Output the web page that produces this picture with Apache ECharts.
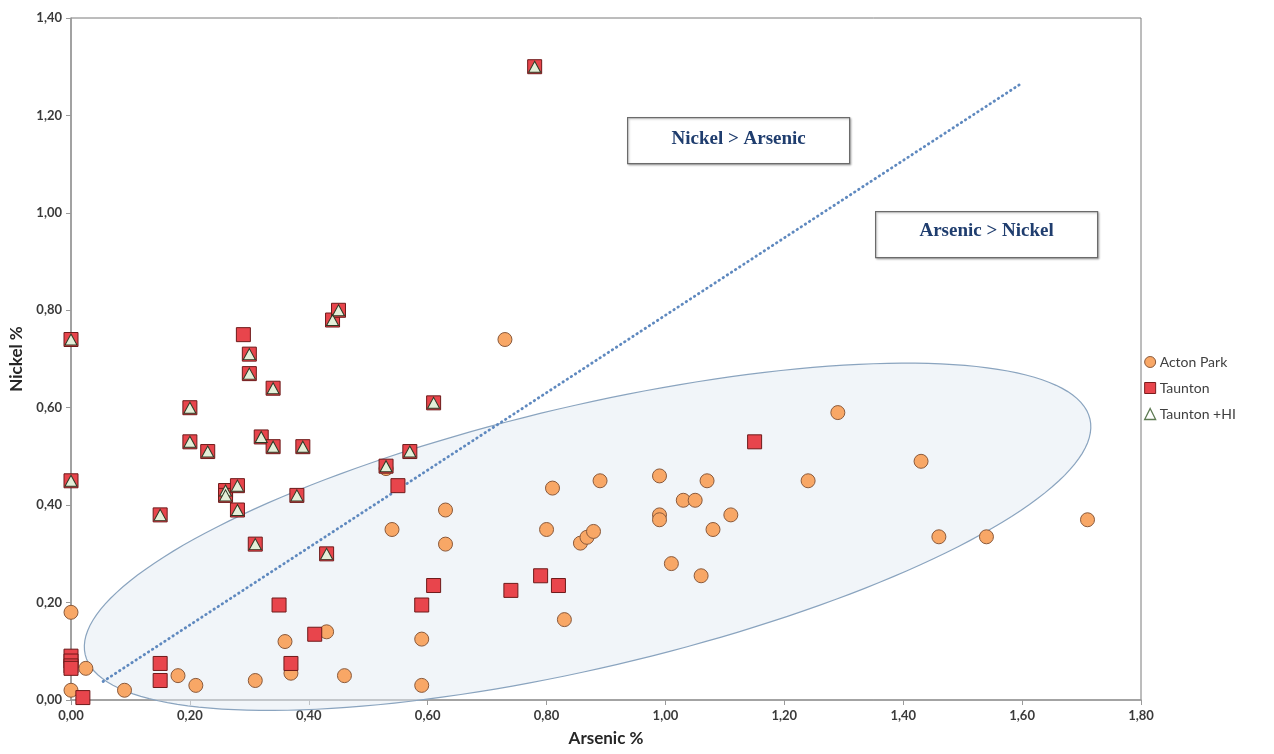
<!DOCTYPE html>
<html>
<head>
<meta charset="utf-8">
<script src="https://cdn.jsdelivr.net/npm/echarts@6/dist/echarts.min.js"></script>
<style>
  html, body { margin: 0; padding: 0; background: #ffffff; }
  #chart { width: 1274px; height: 754px; }
</style>
</head>
<body>
<div id="chart"></div>
<script>
// Arsenic % (x) vs Nickel % (y) per sample
const actonPark = [
  [0.00, 0.18], [0.025, 0.065], [0.00, 0.02], [0.09, 0.02], [0.18, 0.05],
  [0.21, 0.03], [0.31, 0.04], [0.36, 0.12], [0.37, 0.055], [0.43, 0.14],
  [0.46, 0.05], [0.53, 0.475], [0.54, 0.35], [0.59, 0.125], [0.59, 0.03],
  [0.63, 0.39], [0.63, 0.32], [0.73, 0.74], [0.80, 0.35], [0.81, 0.435],
  [0.83, 0.165], [0.857, 0.322], [0.868, 0.334], [0.879, 0.346], [0.89, 0.45],
  [0.99, 0.46], [0.99, 0.38], [0.99, 0.37], [1.01, 0.28], [1.03, 0.41],
  [1.05, 0.41], [1.06, 0.255], [1.07, 0.45], [1.08, 0.35], [1.11, 0.38],
  [1.24, 0.45], [1.29, 0.59], [1.43, 0.49], [1.46, 0.335], [1.54, 0.335],
  [1.71, 0.37]
];

// Taunton samples without HI flag
const tauntonOnly = [
  [0.00, 0.09], [0.00, 0.08], [0.00, 0.07], [0.00, 0.065], [0.02, 0.005],
  [0.15, 0.075], [0.15, 0.04], [0.29, 0.75], [0.35, 0.195], [0.37, 0.075],
  [0.41, 0.135], [0.55, 0.44], [0.59, 0.195], [0.61, 0.235], [0.74, 0.225],
  [0.79, 0.255], [0.82, 0.235], [1.15, 0.53]
];

// Taunton samples also flagged +HI (drawn as a triangle over the square)
const tauntonHI = [
  [0.00, 0.74], [0.00, 0.45], [0.15, 0.38], [0.20, 0.60], [0.20, 0.53],
  [0.23, 0.51], [0.26, 0.43], [0.26, 0.42], [0.28, 0.44], [0.28, 0.39],
  [0.30, 0.71], [0.30, 0.67], [0.31, 0.32], [0.32, 0.54], [0.34, 0.64],
  [0.34, 0.52], [0.38, 0.42], [0.39, 0.52], [0.43, 0.30], [0.44, 0.78],
  [0.45, 0.80], [0.53, 0.48], [0.57, 0.51], [0.61, 0.61], [0.78, 1.30]
];

// dividing line between the two regions
const dividerLine = [[0.054, 0.038], [1.598, 1.265]];

// centre of the grouping ellipse (data units)
const ellipseCentre = [[0.869, 0.335]];

const xTicks = { min: 0, max: 1.8, interval: 0.2 };
const yTicks = { min: 0, max: 1.4, interval: 0.2 };

const seriesNames = ['Acton Park', 'Taunton', 'Taunton +HI'];

const fmt = v => v.toFixed(2).replace('.', ',');
const tickFont = { fontFamily: 'Lato, "Open Sans", sans-serif', fontWeight: 'bold', fontSize: 13, color: '#3a3a3a' };
const boxFont = 'bold 19px "Liberation Serif", "Times New Roman", serif';

const chart = echarts.init(document.getElementById('chart'), null, { renderer: 'canvas' });

const option = {
  animation: false,
  backgroundColor: '#ffffff',
  grid: {
    left: 71, right: 133, top: 18, bottom: 54,
    show: true, borderColor: '#7a7a7a', borderWidth: 1, backgroundColor: 'transparent'
  },
  xAxis: {
    type: 'value', min: xTicks.min, max: xTicks.max, interval: xTicks.interval,
    name: 'Arsenic %', nameLocation: 'middle', nameGap: 30,
    nameTextStyle: { fontFamily: 'Lato, "Open Sans", sans-serif', fontWeight: 'bold', fontSize: 17, color: '#262626' },
    axisLine: { show: true, onZero: false, lineStyle: { color: '#9a9a9a', width: 1.5 } },
    axisTick: { show: true, length: 5, lineStyle: { color: '#9a9a9a' } },
    axisLabel: Object.assign({ margin: 9, formatter: fmt }, tickFont),
    splitLine: { show: false }
  },
  yAxis: {
    type: 'value', min: yTicks.min, max: yTicks.max, interval: yTicks.interval,
    name: 'Nickel %', nameLocation: 'middle', nameGap: 46,
    nameTextStyle: { fontFamily: 'Lato, "Open Sans", sans-serif', fontWeight: 'bold', fontSize: 17, color: '#262626' },
    axisLine: { show: true, onZero: false, lineStyle: { color: '#9a9a9a', width: 1.5 } },
    axisTick: { show: true, length: 5, lineStyle: { color: '#9a9a9a' } },
    axisLabel: Object.assign({ margin: 9, formatter: fmt }, tickFont),
    splitLine: { show: false }
  },
  legend: {
    orient: 'vertical', left: 1144, top: 354, itemGap: 10, padding: 0,
    itemWidth: 11, itemHeight: 11,
    textStyle: { fontFamily: 'Lato, "Open Sans", sans-serif', fontSize: 14, color: '#404040', lineHeight: 16, padding: [0, 0, 0, -1] },
    data: [
      { name: seriesNames[0], icon: 'circle', itemStyle: { color: '#f8a766', borderColor: '#8a5a3c', borderWidth: 1 } },
      { name: seriesNames[1], icon: 'rect', itemStyle: { color: '#e8454c', borderColor: '#7a1c1c', borderWidth: 1 } },
      { name: seriesNames[2], icon: 'triangle', itemStyle: { color: '#ffffff', borderColor: '#5d7a52', borderWidth: 1.3 } }
    ]
  },
  graphic: [
    {
      type: 'group', left: 627, top: 117, z: 20,
      children: [
        { type: 'rect', shape: { x: 0, y: 0, width: 222, height: 46 },
          style: { fill: '#ffffff', stroke: '#6b6b6b', lineWidth: 1.2, shadowBlur: 2, shadowColor: 'rgba(0,0,0,0.25)', shadowOffsetX: 1, shadowOffsetY: 1 } },
        { type: 'text', x: 111, y: 21,
          style: { text: 'Nickel > Arsenic', fill: '#1f3d6e', font: boxFont, textAlign: 'center', textVerticalAlign: 'middle' } }
      ]
    },
    {
      type: 'group', left: 875, top: 211, z: 20,
      children: [
        { type: 'rect', shape: { x: 0, y: 0, width: 222, height: 46 },
          style: { fill: '#ffffff', stroke: '#6b6b6b', lineWidth: 1.2, shadowBlur: 2, shadowColor: 'rgba(0,0,0,0.25)', shadowOffsetX: 1, shadowOffsetY: 1 } },
        { type: 'text', x: 111, y: 19,
          style: { text: 'Arsenic > Nickel', fill: '#1f3d6e', font: boxFont, textAlign: 'center', textVerticalAlign: 'middle' } }
      ]
    }
  ],
  series: [
    {
      // shaded ellipse grouping the Acton Park cloud
      type: 'custom', name: 'ellipse', silent: true, z: 1, clip: false,
      data: ellipseCentre,
      renderItem: function (params, api) {
        const c = api.coord([api.value(0), api.value(1)]);
        const a = 516, b = 131, th = 13.2 * Math.PI / 180;
        const pts = [];
        for (let i = 0; i < 180; i++) {
          const t = i / 180 * Math.PI * 2;
          const ex = a * Math.cos(t), ey = b * Math.sin(t);
          pts.push([c[0] + ex * Math.cos(th) - ey * Math.sin(th),
                    c[1] - (ex * Math.sin(th) + ey * Math.cos(th))]);
        }
        return {
          type: 'polygon', shape: { points: pts },
          style: { fill: 'rgba(228,235,243,0.5)', stroke: '#8aa4bf', lineWidth: 1.2 }
        };
      }
    },
    {
      type: 'line', name: 'divider', data: dividerLine, symbol: 'none', silent: true, z: 3,
      lineStyle: { color: '#5f89bf', width: 2.8, type: [0.5, 4.4], cap: 'round' }
    },
    {
      type: 'scatter', name: seriesNames[0], data: actonPark, symbol: 'circle', symbolSize: 14, z: 4,
      itemStyle: { color: '#f8a766', borderColor: '#8a5a3c', borderWidth: 1, opacity: 1 }
    },
    {
      type: 'scatter', name: seriesNames[1], data: tauntonOnly.concat(tauntonHI), symbol: 'rect', symbolSize: 14, z: 5,
      itemStyle: { color: '#e8454c', borderColor: '#6e1a1a', borderWidth: 1, opacity: 1 }
    },
    {
      type: 'scatter', name: seriesNames[2], data: tauntonHI, symbol: 'triangle', symbolSize: [12, 11], z: 6,
      itemStyle: { color: '#e4efd9', borderColor: '#2e3a25', borderWidth: 1, opacity: 1 }
    }
  ]
};

chart.setOption(option);
</script>
</body>
</html>
